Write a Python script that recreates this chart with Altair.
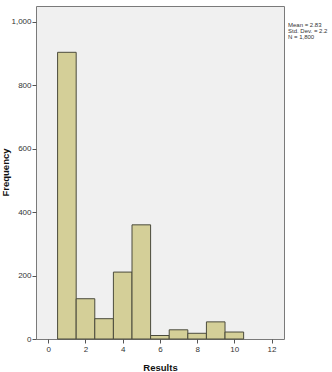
import altair as alt
import pandas as pd

results = [1, 2, 3, 4, 5, 6, 7, 8, 9, 10]
frequency = [904, 127, 64, 211, 360, 11, 29, 18, 54, 22]
bin_width = 1.0
stats_lines = ["Mean = 2.83", "Std. Dev. = 2.2", "N = 1,800"]
x_ticks = [0, 2, 4, 6, 8, 10, 12]
y_ticks = [0, 200, 400, 600, 800, 1000]

df = pd.DataFrame({"Results": results, "Frequency": frequency})
df["start"] = df["Results"] - bin_width / 2
df["end"] = df["Results"] + bin_width / 2

x_scale = alt.Scale(domain=[-0.66, 12.67], nice=False, zero=False, padding=0)
y_scale = alt.Scale(domain=[0, 1050], nice=False, padding=0)

bars = alt.Chart(df).mark_bar(
    fill="#D4CF98", stroke="#4B4B3C", strokeWidth=1, orient="vertical"
).encode(
    x=alt.X("start:Q", scale=x_scale,
            axis=alt.Axis(values=x_ticks, title="Results", grid=False, domain=False,
                          tickColor="#555555", tickSize=4, labelFontSize=8,
                          labelColor="#333333", labelPadding=2,
                          titleFontSize=9.5, titleFontWeight="bold", titleColor="#111111",
                          titleBaseline="middle", titleY=28)),
    x2="end:Q",
    y=alt.Y("Frequency:Q", scale=y_scale,
            axis=alt.Axis(values=y_ticks, format=",.0f", title="Frequency", grid=False,
                          domain=False, tickColor="#555555", tickSize=4,
                          labelFontSize=8, labelColor="#333333", labelPadding=1,
                          titleFontSize=9.5, titleFontWeight="bold", titleColor="#111111",
                          titleAngle=-90, titleBaseline="middle", titleAlign="center",
                          titleX=-31, titleY=166)),
    y2=alt.datum(0),
)

stats = alt.Chart(pd.DataFrame({"a": [0]})).mark_text(
    text=stats_lines, align="left", baseline="top", fontSize=6,
    lineHeight=6, color="#333333", clip=False, font="Liberation Sans"
).encode(x=alt.value(252), y=alt.value(16))

chart = (bars + stats).properties(
    width=248, height=333,
    autosize=alt.AutoSizeParams(type="none"),
    padding={"left": 36, "top": 6, "right": 48, "bottom": 33},
).configure(
    background="white", font="Liberation Sans",
    view=alt.ViewConfig(fill="#F0F0F0", stroke="#7A7A7A", strokeWidth=1),
)

chart.save("out.html", embed_options={"renderer": "svg", "actions": False})
